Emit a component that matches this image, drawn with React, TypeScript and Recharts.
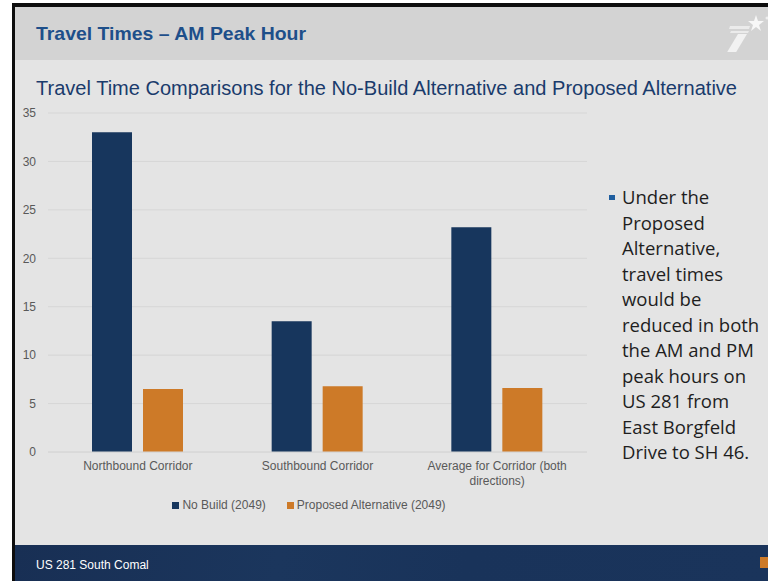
import React from 'react';
import { BarChart, Bar, XAxis, YAxis, CartesianGrid, Legend, Text } from 'recharts';

const categories = ['Northbound Corridor', 'Southbound Corridor', 'Average for Corridor (both directions)'];
const noBuild = [33, 13.5, 23.2];
const proposed = [6.5, 6.8, 6.6];
const yTicks = [0, 5, 10, 15, 20, 25, 30, 35];

const seriesNames = { noBuild: 'No Build (2049)', proposed: 'Proposed Alternative (2049)' };

const bulletLines = [
  'Under the',
  'Proposed',
  'Alternative,',
  'travel times',
  'would be',
  'reduced in both',
  'the AM and PM',
  'peak hours on',
  'US 281 from',
  'East Borgfeld',
  'Drive to SH 46.',
];

const data = categories.map((name, i) => ({ name, noBuild: noBuild[i], proposed: proposed[i] }));

const NAVY = '#17365d';
const ORANGE = '#cd7a28';
const TICK = '#595959';
const FONT = '"Liberation Sans", Arial, sans-serif';

const CategoryTick = (props: any) => {
  const { x, y, payload } = props;
  return (
    <Text
      x={x}
      y={y}
      width={185}
      textAnchor="middle"
      verticalAnchor="start"
      fill={TICK}
      fontSize={12}
      fontFamily={FONT}
      lineHeight={15}
    >
      {payload.value}
    </Text>
  );
};

const LegendContent = (props: any) => {
  const { payload } = props;
  return (
    <div
      style={{
        display: 'flex',
        justifyContent: 'center',
        gap: 21,
        paddingLeft: 31,
        fontFamily: FONT,
        fontSize: 12,
        lineHeight: '14px',
        color: TICK,
      }}
    >
      {payload.map((p: any) => (
        <div key={p.value} style={{ display: 'flex', alignItems: 'center' }}>
          <span style={{ width: 7, height: 7, background: p.color, marginRight: 3, display: 'inline-block' }} />
          <span>{p.value}</span>
        </div>
      ))}
    </div>
  );
};

const Logo = () => (
  <svg width={48} height={40} viewBox="0 0 48 40" style={{ position: 'absolute', left: 720, top: 12 }}>
    <polygon points="10,14 30,14 29,17 9,17" fill="#ebebeb" />
    <polygon points="11,19 29,19 28,21 10,21" fill="#ebebeb" />
    <polygon points="18,22 27,22 15,42 6,42" fill="#f2f2f2" />
    <polygon points="36,3 38,9 44,9 39,13 41,19 36,15 31,19 33,13 28,9 34,9" fill="#f7f7f7" />
    <circle cx={47} cy={6} r={1.5} fill="#eeeeee" />
  </svg>
);

export default function App() {
  return (
    <div style={{ position: 'absolute', left: 0, top: 0, width: 768, height: 581, background: '#ffffff', overflow: 'hidden' }}>
      {/* frame */}
      <div style={{ position: 'absolute', left: 12, top: 3, width: 756, height: 4, background: '#0d0d0d' }} />
      <div style={{ position: 'absolute', left: 12, top: 3, width: 3, height: 578, background: '#0d0d0d' }} />
      <div style={{ position: 'absolute', left: 15, top: 7, width: 753, height: 53, background: '#d3d3d3' }} />
      <div style={{ position: 'absolute', left: 15, top: 60, width: 753, height: 485, background: '#e4e4e4' }} />
      <div
        style={{
          position: 'absolute',
          left: 15,
          top: 545,
          width: 753,
          height: 36,
          background: 'linear-gradient(100deg, #182f54 0%, #1b365d 35%, #19335a 60%, #1a345b 100%)',
        }}
      />
      <div style={{ position: 'absolute', left: 760, top: 557, width: 8, height: 11, background: ORANGE }} />

      <Logo />

      {/* titles */}
      <svg width={768} height={110} style={{ position: 'absolute', left: 0, top: 0 }}>
        <text
          x={36}
          y={40}
          fontFamily={FONT}
          fontWeight="bold"
          fontSize={19}
          fill="#1e4f8a"
          textLength={270}
          lengthAdjust="spacingAndGlyphs"
        >
          Travel Times – AM Peak Hour
        </text>
        <text
          x={36}
          y={95}
          fontFamily={FONT}
          fontSize={20.5}
          fill="#1a3b6c"
          textLength={701}
          lengthAdjust="spacingAndGlyphs"
        >
          Travel Time Comparisons for the No-Build Alternative and Proposed Alternative
        </text>
      </svg>

      <div style={{ position: 'absolute', left: 0, top: 100 }}>
        <BarChart
          width={600}
          height={430}
          data={data}
          margin={{ top: 13, right: 13, bottom: 18, left: 0 }}
          barSize={40}
          barGap={11}
        >
          <CartesianGrid vertical={false} stroke="#d6d6d6" />
          <XAxis
            dataKey="name"
            axisLine={{ stroke: '#d6d6d6' }}
            tickLine={false}
            tick={<CategoryTick />}
            interval={0}
            height={46}
            tickMargin={3}
          />
          <YAxis
            domain={[0, 35]}
            ticks={yTicks}
            axisLine={false}
            tickLine={false}
            width={48}
            tickMargin={6}
            tick={{ fill: TICK, fontSize: 12, fontFamily: FONT }}
          />
          <Legend verticalAlign="bottom" content={<LegendContent />} />
          <Bar dataKey="noBuild" name={seriesNames.noBuild} fill={NAVY} isAnimationActive={false} />
          <Bar dataKey="proposed" name={seriesNames.proposed} fill={ORANGE} isAnimationActive={false} />
        </BarChart>
      </div>

      <div style={{ position: 'absolute', left: 609, top: 195, width: 6, height: 5, background: '#1f5e9f' }} />
      <div
        style={{
          position: 'absolute',
          left: 622,
          top: 184,
          fontFamily: '"Open Sans", sans-serif',
          fontSize: 18.5,
          lineHeight: '25.5px',
          color: '#1e1e1e',
          whiteSpace: 'nowrap',
        }}
      >
        {bulletLines.map((l) => (
          <div key={l}>{l}</div>
        ))}
      </div>

      <div
        style={{
          position: 'absolute',
          left: 36,
          top: 558,
          fontFamily: FONT,
          fontSize: 12,
          color: '#ffffff',
          whiteSpace: 'nowrap',
        }}
      >
        US 281 South Comal
      </div>
    </div>
  );
}
